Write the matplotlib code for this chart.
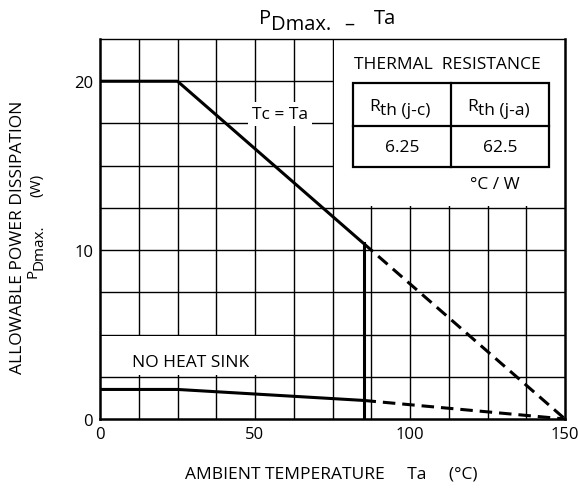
import numpy as np
import matplotlib
matplotlib.use('Agg')
from matplotlib import pyplot as plt
from matplotlib.patches import Rectangle

plt.rcParams['font.family'] = ['Open Sans', 'DejaVu Sans']
plt.rcParams['lines.scale_dashes'] = False

# Tc = Ta curve (infinite heat sink)
tc_x = [0, 25, 85]
tc_y = [20, 20, 10.4]
tc_dash_x = [85, 150]
tc_dash_y = [10.4, 0]

# no heat sink curve
nhs_x = [0, 25, 85]
nhs_y = [1.75, 1.75, 1.1]
nhs_dash_x = [85, 150]
nhs_dash_y = [1.1, 0]

x_ticks = [0, 50, 100, 150]
y_ticks = [0, 10, 20]
rth_heads = ['(j-c)', '(j-a)']
rth_vals = ['6.25', '62.5']

W, H = 578, 489
fig = plt.figure(figsize=(W/100, H/100), dpi=100)
ax = fig.add_axes([100/W, 69/H, 465/W, 380/H])

def fx(px):
  return px / W

def fy(py):
  return 1 - py / H

ax.set_xlim(0, 150)
ax.set_ylim(0, 22.5)

# grid drawn by hand so it sits under the white label boxes
for gx in np.arange(12.5, 150, 12.5):
  ax.axvline(gx, color='black', lw=1.0, zorder=1)
for gy in np.arange(2.5, 22.5, 2.5):
  ax.axhline(gy, color='black', lw=1.0, zorder=1)

# white areas for the labels
ax.add_patch(Rectangle((75.4, 12.6), 74.6, 9.9, facecolor='white', edgecolor='none', zorder=2))
ax.add_patch(Rectangle((0.3, 2.6), 62, 2.3, facecolor='white', edgecolor='none', zorder=2))

lw = 2.2
ax.plot(tc_x, tc_y, color='black', lw=lw, zorder=4, solid_capstyle='butt')
ax.plot(tc_dash_x, tc_dash_y, color='black', lw=lw, ls=(0, (9, 5)), zorder=4)
ax.plot([tc_x[-1], tc_x[-1]], [tc_y[-1], 0], color='black', lw=lw, zorder=4)
ax.plot(nhs_x, nhs_y, color='black', lw=lw, zorder=4)
ax.plot(nhs_dash_x, nhs_dash_y, color='black', lw=lw, ls=(0, (9, 5)), zorder=4)

fs = 12.5
ax.text(58, 18.05, 'Tc = Ta', fontsize=fs, ha='center', va='center', zorder=3,
        bbox=dict(facecolor='white', edgecolor='none', pad=3))
ax.text(10.3, 3.4, 'NO HEAT SINK', fontsize=fs, ha='left', va='center', zorder=3)

# thermal resistance table
ax.text(112, 21.0, 'THERMAL  RESISTANCE', fontsize=fs, ha='center', va='center', zorder=3)
tx0, tx1, txm = 81.5, 144.7, 113.3
ty0, ty1, tym = 14.95, 19.9, 17.35
ax.add_patch(Rectangle((tx0, ty0), tx1 - tx0, ty1 - ty0, facecolor='white',
                       edgecolor='black', lw=1.6, zorder=3))
ax.plot([txm, txm], [ty0, ty1], color='black', lw=1.6, zorder=3)
ax.plot([tx0, tx1], [tym, tym], color='black', lw=1.6, zorder=3)
for cx, head, val in zip([(tx0 + txm)/2, (txm + tx1)/2], rth_heads, rth_vals):
  t = ax.text(cx - 10.6, 18.55, 'R', fontsize=fs, ha='left', va='center', zorder=4)
  ax.annotate('th ' + head, xy=(1, 0.5), xycoords=t, xytext=(0.3, -3),
              textcoords='offset points', fontsize=fs, ha='left', va='center', zorder=4)
  ax.text(cx, 16.1, val, fontsize=fs, ha='center', va='center', zorder=4)
ax.text(127.5, 13.9, '°C / W', fontsize=fs, ha='center', va='center', zorder=3)

ax.set_xticks(x_ticks)
ax.set_yticks(y_ticks)
ax.tick_params(length=0, labelsize=12, pad=5)
for s in ['left', 'bottom', 'right']:
  ax.spines[s].set_linewidth(1.8)
ax.spines['top'].set_linewidth(1.0)

# title with subscript
tfs = 14.5
fig.text(fx(259), fy(19), 'P', fontsize=tfs, ha='left', va='center')
fig.text(fx(271), fy(25), 'Dmax.', fontsize=tfs, ha='left', va='center')
fig.text(fx(344), fy(24.5), '–', fontsize=tfs, ha='left', va='center')
fig.text(fx(374), fy(19), 'Ta', fontsize=tfs, ha='left', va='center')

# axis labels
fig.text(fx(18), fy(237), 'ALLOWABLE POWER DISSIPATION', rotation=90,
         fontsize=fs, ha='center', va='center')
sfs = 11
fig.text(fx(33), fy(273), 'P', rotation=90, fontsize=sfs, ha='center', va='center')
fig.text(fx(39), fy(247), 'Dmax.', rotation=90, fontsize=sfs, ha='center', va='center')
fig.text(fx(37), fy(185), '(W)', rotation=90, fontsize=sfs, ha='center', va='center')
fig.text(fx(331), fy(475), 'AMBIENT TEMPERATURE     Ta     (°C)',
         fontsize=fs, ha='center', va='center')

fig.savefig('out.png', dpi=100)
